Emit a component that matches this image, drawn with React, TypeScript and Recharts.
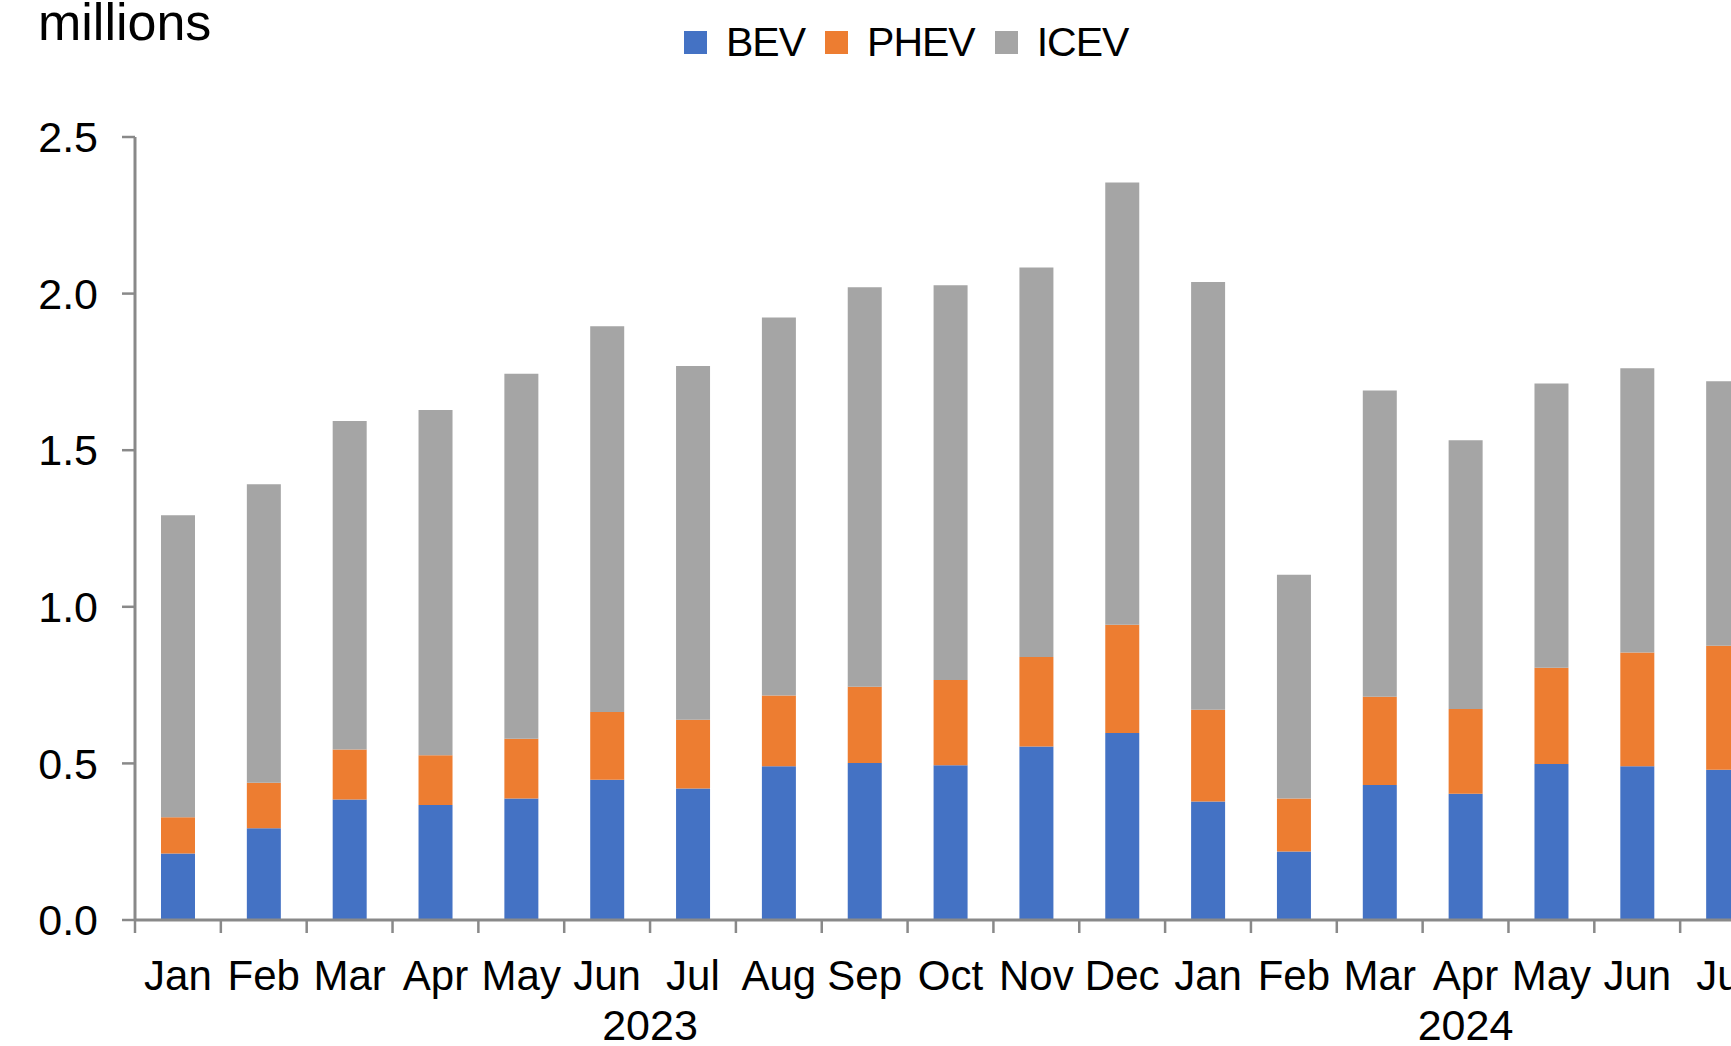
import React from 'react';
import { BarChart, Bar, XAxis, YAxis } from 'recharts';

const months = ['Jan', 'Feb', 'Mar', 'Apr', 'May', 'Jun', 'Jul', 'Aug', 'Sep', 'Oct', 'Nov', 'Dec', 'Jan', 'Feb', 'Mar', 'Apr', 'May', 'Jun', 'Jul'];
const years = [2023, 2023, 2023, 2023, 2023, 2023, 2023, 2023, 2023, 2023, 2023, 2023, 2024, 2024, 2024, 2024, 2024, 2024, 2024];
const bev = [0.212, 0.293, 0.385, 0.367, 0.388, 0.448, 0.420, 0.491, 0.501, 0.494, 0.554, 0.597, 0.378, 0.219, 0.431, 0.403, 0.498, 0.491, 0.480];
const phev = [0.116, 0.145, 0.159, 0.159, 0.191, 0.216, 0.219, 0.226, 0.244, 0.272, 0.286, 0.346, 0.293, 0.169, 0.282, 0.271, 0.307, 0.363, 0.396];
const icev = [0.964, 0.953, 1.049, 1.102, 1.165, 1.232, 1.130, 1.207, 1.275, 1.261, 1.243, 1.412, 1.366, 0.714, 0.978, 0.858, 0.908, 0.908, 0.844];
const yTicks = [0, 0.5, 1.0, 1.5, 2.0, 2.5];

const series = [
  { key: 'BEV', values: bev, color: '#4472C4' },
  { key: 'PHEV', values: phev, color: '#ED7D31' },
  { key: 'ICEV', values: icev, color: '#A5A5A5' },
];

const data = months.map((m, i) => {
  const row: Record<string, any> = { month: m, year: years[i] };
  series.forEach((s) => { row[s.key] = s.values[i]; });
  return row;
});

const FONT = '"Liberation Sans", Arial, sans-serif';
const AXIS = '#898989';
const CHART_W = 1780;
const CHART_H = 1046;
const MARGIN = { top: 137, right: 14, left: 0, bottom: 0 };
const Y_AXIS_W = 135;
const X_AXIS_H = 126;
const PLOT_W = CHART_W - MARGIN.left - MARGIN.right - Y_AXIS_W;
const BAND = PLOT_W / months.length;

function MonthTick(props: any) {
  const { x, y, payload, index } = props;
  const i = index;
  const isGroupStart = i === 0 || years[i] !== years[i - 1];
  let n = 0;
  if (isGroupStart) {
    while (i + n < years.length && years[i + n] === years[i]) n++;
  }
  const yearX = x + ((n - 1) / 2) * BAND;
  return (
    <g>
      <line x1={x - BAND / 2} y1={y} x2={x - BAND / 2} y2={y + 13} stroke={AXIS} strokeWidth={2.5} />
      {i === months.length - 1 && (
        <line x1={x + BAND / 2} y1={y} x2={x + BAND / 2} y2={y + 13} stroke={AXIS} strokeWidth={2.5} />
      )}
      <text x={x} y={y + 70} textAnchor="middle" fontSize={42} fontFamily={FONT} fill="#000">
        {payload.value}
      </text>
      {isGroupStart && (
        <text x={yearX} y={y + 120} textAnchor="middle" fontSize={43} fontFamily={FONT} fill="#000">
          {years[i]}
        </text>
      )}
    </g>
  );
}

export default function App() {
  return (
    <div
      style={{
        position: 'absolute',
        left: 0,
        top: 0,
        width: 1731,
        height: 1046,
        overflow: 'hidden',
        background: '#fff',
        fontFamily: FONT,
      }}
    >
      <BarChart width={CHART_W} height={CHART_H} data={data} margin={MARGIN}>
        <XAxis
          dataKey="month"
          interval={0}
          height={X_AXIS_H}
          tickLine={false}
          tickSize={0}
          tickMargin={0}
          axisLine={{ stroke: AXIS, strokeWidth: 3 }}
          tick={<MonthTick />}
        />
        <YAxis
          width={Y_AXIS_W}
          domain={[0, 2.5]}
          ticks={yTicks}
          interval={0}
          tickFormatter={(v: number) => v.toFixed(1)}
          tickSize={13}
          tickMargin={24}
          axisLine={{ stroke: AXIS, strokeWidth: 3 }}
          tickLine={{ stroke: AXIS, strokeWidth: 2.5 }}
          tick={{ fontSize: 43, fill: '#000', fontFamily: FONT }}
        />
        {series.map((s) => (
          <Bar key={s.key} dataKey={s.key} stackId="a" fill={s.color} barSize={34} isAnimationActive={false} />
        ))}
      </BarChart>
      <div
        style={{
          position: 'absolute',
          left: 38,
          top: -4,
          fontSize: 52,
          lineHeight: '52px',
          color: '#000',
        }}
      >
        millions
      </div>
      <div
        style={{
          position: 'absolute',
          left: 684,
          top: 21,
          height: 42,
          display: 'flex',
          alignItems: 'center',
          fontSize: 41,
          lineHeight: '42px',
          color: '#000',
        }}
      >
        {series.map((s) => (
          <div key={s.key} style={{ display: 'flex', alignItems: 'center', marginRight: 20 }}>
            <div style={{ width: 23, height: 23, background: s.color, marginRight: 19 }} />
            <span style={{ letterSpacing: -1 }}>{s.key}</span>
          </div>
        ))}
      </div>
    </div>
  );
}
